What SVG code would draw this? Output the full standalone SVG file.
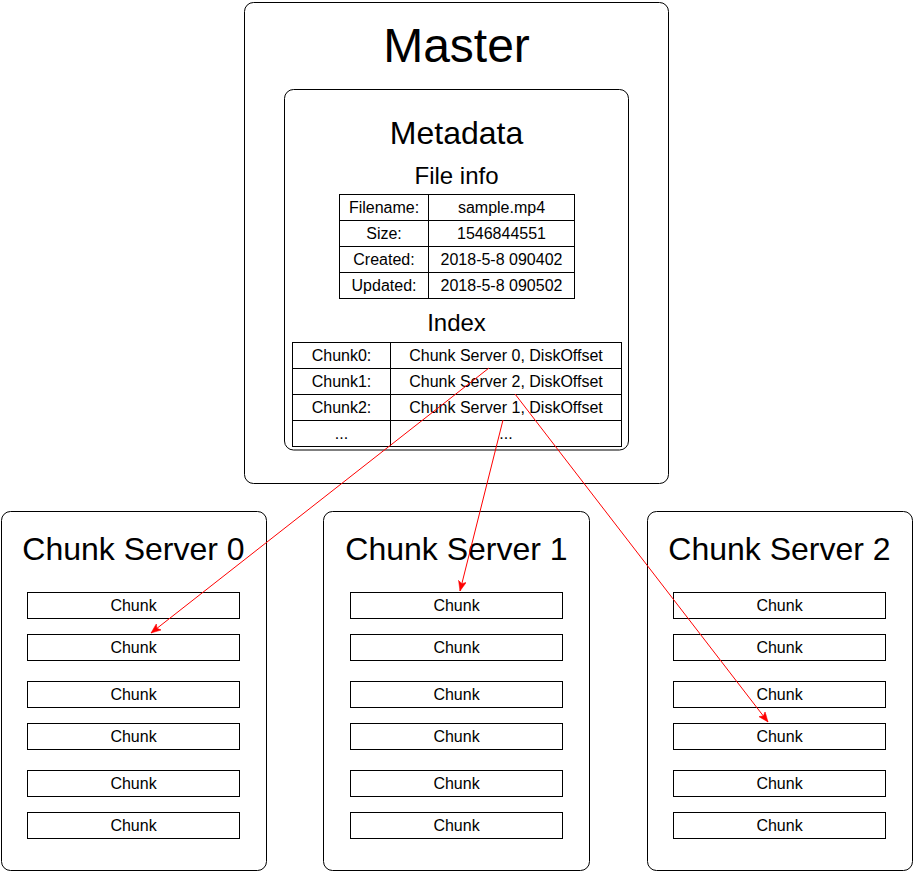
<svg xmlns="http://www.w3.org/2000/svg" width="913" height="872" viewBox="0 0 913 872">
<defs>
<style>
.box{fill:#fff;stroke:#000;stroke-width:1}
.cell{fill:none;stroke:#000;stroke-width:1}
text{font-family:"Liberation Sans",Arial,Helvetica,sans-serif;fill:#000;text-anchor:middle}
.t48{font-size:48px}
.t32{font-size:32px}
.t24{font-size:24px}
.t16{font-size:16px}
.edge{fill:none;stroke:#ff0000;stroke-width:1}
</style>
<marker id="arrow" markerUnits="userSpaceOnUse" markerWidth="11" markerHeight="8" refX="10" refY="4" orient="auto">
<path d="M0,0 L10,4 L0,8 L2.5,4 Z" fill="#ff0000" stroke="#ff0000" stroke-width="0.5"/>
</marker>
</defs>
<rect width="913" height="872" fill="#fff"/>

<g id="master">
<rect class="box" x="244.5" y="2.5" width="424" height="481" rx="9"/>
<text class="t48" x="456.5" y="62">Master</text>
</g>

<g id="metadata">
<rect class="box" x="284.5" y="89.5" width="344" height="360.5" rx="9"/>
<text class="t32" x="456.5" y="144">Metadata</text>
<text class="t24" x="456.5" y="184">File info</text>
</g>

<g id="fileinfo-table">
<rect class="cell" x="339.5" y="194.5" width="235" height="104"/>
<line class="cell" x1="428.5" y1="194.5" x2="428.5" y2="298.5"/>
<line class="cell" x1="339.5" y1="220.5" x2="574.5" y2="220.5"/>
<line class="cell" x1="339.5" y1="246.5" x2="574.5" y2="246.5"/>
<line class="cell" x1="339.5" y1="272.5" x2="574.5" y2="272.5"/>
<text class="t16" x="384" y="213">Filename:</text>
<text class="t16" x="501.5" y="213">sample.mp4</text>
<text class="t16" x="384" y="239">Size:</text>
<text class="t16" x="501.5" y="239">1546844551</text>
<text class="t16" x="384" y="265">Created:</text>
<text class="t16" x="501.5" y="265">2018-5-8 090402</text>
<text class="t16" x="384" y="291">Updated:</text>
<text class="t16" x="501.5" y="291">2018-5-8 090502</text>
</g>

<g id="index-table">
<text class="t24" x="456.5" y="331">Index</text>
<rect class="cell" x="292.5" y="342.5" width="329" height="104"/>
<line class="cell" x1="390.5" y1="342.5" x2="390.5" y2="446.5"/>
<line class="cell" x1="292.5" y1="368.5" x2="621.5" y2="368.5"/>
<line class="cell" x1="292.5" y1="394.5" x2="621.5" y2="394.5"/>
<line class="cell" x1="292.5" y1="420.5" x2="621.5" y2="420.5"/>
<text class="t16" x="341.5" y="361">Chunk0:</text>
<text class="t16" x="506" y="361">Chunk Server 0, DiskOffset</text>
<text class="t16" x="341.5" y="387">Chunk1:</text>
<text class="t16" x="506" y="387">Chunk Server 2, DiskOffset</text>
<text class="t16" x="341.5" y="413">Chunk2:</text>
<text class="t16" x="506" y="413">Chunk Server 1, DiskOffset</text>
<text class="t16" x="341.5" y="439">...</text>
<text class="t16" x="506" y="439">...</text>
</g>

<g id="server0">
<rect class="box" x="1.5" y="511.5" width="265" height="359" rx="9"/>
<text class="t32" x="133.5" y="560">Chunk Server 0</text>
<rect class="box" x="27.5" y="592.5" width="212" height="26"/><text class="t16" x="133.5" y="611">Chunk</text>
<rect class="box" x="27.5" y="634.5" width="212" height="26"/><text class="t16" x="133.5" y="653">Chunk</text>
<rect class="box" x="27.5" y="681.5" width="212" height="26"/><text class="t16" x="133.5" y="700">Chunk</text>
<rect class="box" x="27.5" y="723.5" width="212" height="26"/><text class="t16" x="133.5" y="742">Chunk</text>
<rect class="box" x="27.5" y="770.5" width="212" height="26"/><text class="t16" x="133.5" y="789">Chunk</text>
<rect class="box" x="27.5" y="812.5" width="212" height="26"/><text class="t16" x="133.5" y="831">Chunk</text>
</g>

<g id="server1">
<rect class="box" x="323.5" y="511.5" width="266" height="359" rx="9"/>
<text class="t32" x="456.5" y="560">Chunk Server 1</text>
<rect class="box" x="350.5" y="592.5" width="212" height="26"/><text class="t16" x="456.5" y="611">Chunk</text>
<rect class="box" x="350.5" y="634.5" width="212" height="26"/><text class="t16" x="456.5" y="653">Chunk</text>
<rect class="box" x="350.5" y="681.5" width="212" height="26"/><text class="t16" x="456.5" y="700">Chunk</text>
<rect class="box" x="350.5" y="723.5" width="212" height="26"/><text class="t16" x="456.5" y="742">Chunk</text>
<rect class="box" x="350.5" y="770.5" width="212" height="26"/><text class="t16" x="456.5" y="789">Chunk</text>
<rect class="box" x="350.5" y="812.5" width="212" height="26"/><text class="t16" x="456.5" y="831">Chunk</text>
</g>

<g id="server2">
<rect class="box" x="647.5" y="511.5" width="265" height="359" rx="9"/>
<text class="t32" x="779.5" y="560">Chunk Server 2</text>
<rect class="box" x="673.5" y="592.5" width="212" height="26"/><text class="t16" x="779.5" y="611">Chunk</text>
<rect class="box" x="673.5" y="634.5" width="212" height="26"/><text class="t16" x="779.5" y="653">Chunk</text>
<rect class="box" x="673.5" y="681.5" width="212" height="26"/><text class="t16" x="779.5" y="700">Chunk</text>
<rect class="box" x="673.5" y="723.5" width="212" height="26"/><text class="t16" x="779.5" y="742">Chunk</text>
<rect class="box" x="673.5" y="770.5" width="212" height="26"/><text class="t16" x="779.5" y="789">Chunk</text>
<rect class="box" x="673.5" y="812.5" width="212" height="26"/><text class="t16" x="779.5" y="831">Chunk</text>
</g>

<g id="connectors">
<line class="edge" x1="489" y1="368" x2="151" y2="633" marker-end="url(#arrow)"/>
<line class="edge" x1="515" y1="394" x2="768" y2="722" marker-end="url(#arrow)"/>
<line class="edge" x1="503" y1="420" x2="460" y2="591" marker-end="url(#arrow)"/>
</g>
</svg>
